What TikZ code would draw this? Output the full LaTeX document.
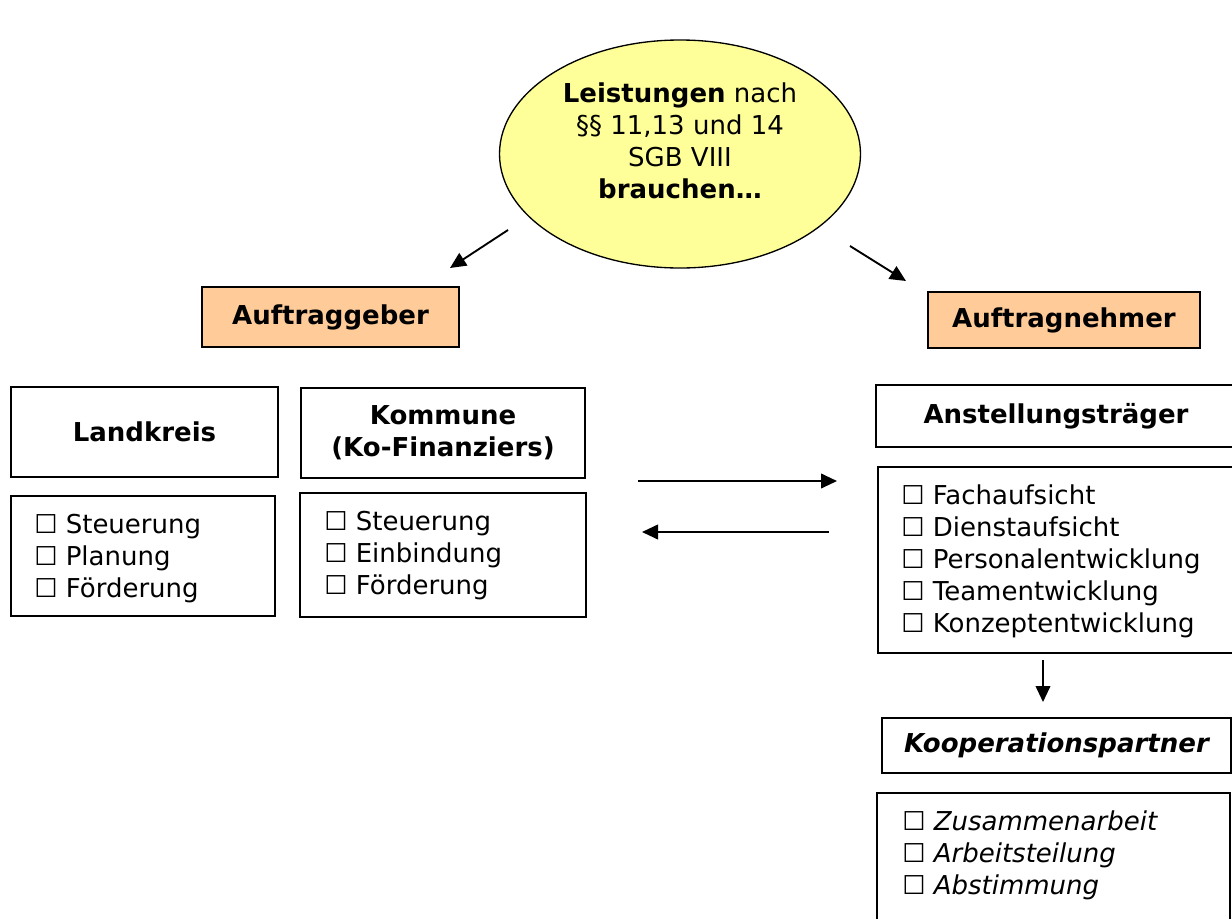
\documentclass[tikz,border=0pt]{standalone}
\usepackage{fontspec}
\setmainfont{DejaVu Sans}
\usetikzlibrary{arrows.meta,shapes.geometric}
\definecolor{needyellow}{HTML}{FFFF99}
\definecolor{rolepeach}{HTML}{FFCC99}
\newcommand\chartsize{\fontsize{19.5}{24}\selectfont}
\tikzset{
    boxsize/.style 2 args={minimum width=#1*0.75pt, minimum height=#2*0.75pt},
    frame/.style={draw, line width=1pt, fill=white, inner sep=0pt, align=center},
    rolebox/.style={frame, fill=rolepeach, font=\chartsize\bfseries},
    titlebox/.style={frame, font=\chartsize\bfseries},
    items/.style={anchor=base west, align=left, inner sep=0pt},
    flow/.style={-{Triangle[length=12pt, width=11pt]}, line width=1.4pt},
}
\begin{document}
\begin{tikzpicture}[x=0.75pt, y=-0.75pt, font=\chartsize]
    \useasboundingbox (0,0) rectangle (1232,918);

    % the need in the middle
    \node[ellipse, draw, line width=1pt, fill=needyellow, boxsize={361}{228}] (need) at (680,154) {};
    \node[align=center, inner sep=0pt] (needtext) at (680,141)
        {\textbf{Leistungen} nach\\§§ 11,13 und 14\\SGB VIII\\\textbf{brauchen…}};

    % the two sides
    \node[rolebox, boxsize={257}{60}] (geber)  at (330.5,317) {Auftraggeber};
    \node[rolebox, boxsize={272}{56}] (nehmer) at (1064,320)  {Auftragnehmer};

    % Auftraggeber (lists anchored at their last baseline)
    \node[titlebox, boxsize={267}{90}]  (kreis)    at (144.5,432) {Landkreis};
    \node[titlebox, boxsize={284}{90}]  (kommune)  at (443,433)   {Kommune\\(Ko-Finanziers)};
    \node[frame, boxsize={264}{120}]    (kreisbox) at (143,556)   {};
    \node[frame, boxsize={286}{124}]    (komebox)  at (443,555)   {};
    \node[items] (kreislist) at (34,597)  {☐ Steuerung\\☐ Planung\\☐ Förderung};
    \node[items] (komelist)  at (324,594) {☐ Steuerung\\☐ Einbindung\\☐ Förderung};

    % Auftragnehmer
    \node[titlebox, boxsize={360}{62}]  (traeger)    at (1056,416)   {Anstellungsträger};
    \node[frame, boxsize={358}{186}]    (traegerbox) at (1057,560)   {};
    \node[items] (traegerlist) at (901,632)
        {☐ Fachaufsicht\\☐ Dienstaufsicht\\☐ Personalentwicklung\\☐ Teamentwicklung\\☐ Konzeptentwicklung};
    \node[titlebox, boxsize={349}{55}]  (partner)    at (1056.5,745.5) {\itshape Kooperationspartner};
    \node[frame, boxsize={353}{157}]    (partnerbox) at (1053.5,871.5) {};
    \node[items, font=\chartsize\itshape] (partnerlist) at (902,894)
        {☐ Zusammenarbeit\\☐ Arbeitsteilung\\☐ Abstimmung};

    % arrows
    \coordinate (needL) at (508,230);  \coordinate (geberT)  at (450,268);
    \coordinate (needR) at (850,246);  \coordinate (nehmerT) at (906,281);
    \coordinate (toN1) at (638,481);   \coordinate (toN2) at (837,481);
    \coordinate (toG1) at (829,532);   \coordinate (toG2) at (642,532);
    \coordinate (down1) at (1043,660); \coordinate (down2) at (1043,702);
    \draw[flow] (needL) -- (geberT);
    \draw[flow] (needR) -- (nehmerT);
    \draw[flow] (toN1) -- (toN2);
    \draw[flow] (toG1) -- (toG2);
    \draw[flow] (down1) -- (down2);
\end{tikzpicture}
\end{document}
